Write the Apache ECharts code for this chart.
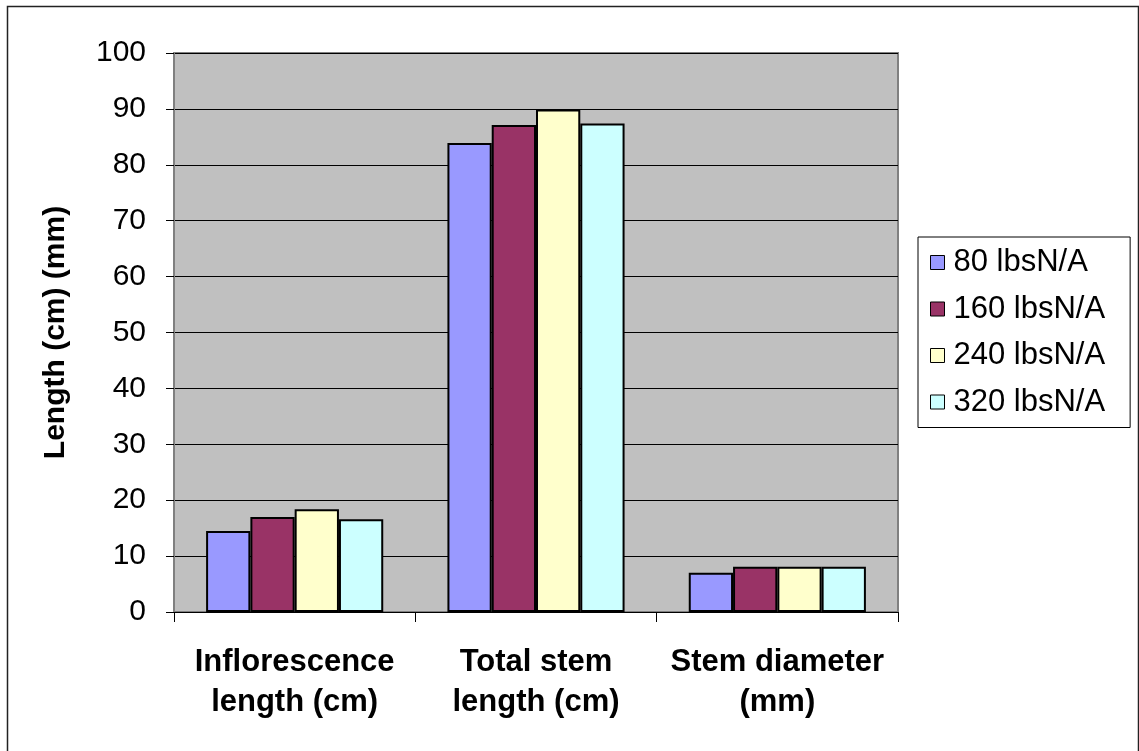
<!DOCTYPE html>
<html>
<head>
<meta charset="utf-8">
<script src="https://cdn.jsdelivr.net/npm/echarts@6/dist/echarts.min.js"></script>
<style>
html,body{margin:0;padding:0;background:#fff;}
#c{width:1139px;height:751px;}
</style>
</head>
<body>
<div id="c"></div>
<script>
const categories = ['Inflorescence\nlength (cm)', 'Total stem\nlength (cm)', 'Stem diameter\n(mm)'];
const seriesNames = ['80 lbsN/A', '160 lbsN/A', '240 lbsN/A', '320 lbsN/A'];
const values80 = [14.5, 83.9, 7.0];
const values160 = [17.0, 87.1, 8.1];
const values240 = [18.4, 89.9, 8.1];
const values320 = [16.6, 87.4, 8.1];
const yTicks = [0, 10, 20, 30, 40, 50, 60, 70, 80, 90, 100];
const colors = ['#9999FF', '#993366', '#FFFFCC', '#CCFFFF'];
const allValues = [values80, values160, values240, values320];

const chart = echarts.init(document.getElementById('c'), null, {renderer: 'canvas'});
const font = 'Arial, "Liberation Sans", sans-serif';

chart.setOption({
  backgroundColor: '#fff',
  animation: false,
  color: colors,
  textStyle: {fontFamily: font},
  graphic: [{
    type: 'rect',
    shape: {x: 7.5, y: 6.5, width: 1131, height: 760},
    style: {fill: 'none', stroke: '#222', lineWidth: 1.5},
    silent: true, z: 100
  }],
  grid: {
    left: 174, right: 241, top: 53, bottom: 139,
    show: true, backgroundColor: '#C0C0C0', borderColor: '#808080', borderWidth: 2
  },
  legend: {
    orient: 'vertical',
    left: 918, top: 237,
    padding: [10, 25, 10, 12],
    backgroundColor: '#fff',
    borderColor: '#000', borderWidth: 1,
    itemWidth: 14, itemHeight: 14,
    itemGap: 15.5,
    icon: 'rect',
    itemStyle: {borderColor: '#000', borderWidth: 1},
    textStyle: {fontSize: 31, color: '#000', fontFamily: font, padding: [0, 0, 0, 4]},
    data: seriesNames
  },
  xAxis: {
    type: 'category',
    data: categories,
    boundaryGap: true,
    axisLine: {show: true, lineStyle: {color: '#000', width: 1}},
    axisTick: {show: true, length: 10, lineStyle: {color: '#000'}},
    axisLabel: {fontSize: 31, fontWeight: 'bold', color: '#000', lineHeight: 40, margin: 30, interval: 0, fontFamily: font},
    splitLine: {show: false}
  },
  yAxis: {
    type: 'value',
    min: yTicks[0], max: yTicks[yTicks.length - 1], interval: 10,
    name: 'Length (cm) (mm)',
    nameLocation: 'middle',
    nameGap: 103,
    nameRotate: 90,
    nameTextStyle: {fontSize: 30, fontWeight: 'bold', color: '#000', fontFamily: font},
    axisLine: {show: true, lineStyle: {color: '#808080', width: 2}},
    axisTick: {show: true, inside: false, length: 8, lineStyle: {color: '#000'}},
    axisLabel: {fontSize: 30, color: '#000', margin: 28, fontFamily: font},
    splitLine: {show: true, lineStyle: {color: '#000', width: 1}}
  },
  series: seriesNames.map((n, i) => ({
    name: n,
    type: 'bar',
    data: allValues[i],
    barGap: '0%',
    barCategoryGap: '26.6%',
    itemStyle: {color: colors[i], borderColor: '#000', borderWidth: 2}
  }))
});
</script>
</body>
</html>
